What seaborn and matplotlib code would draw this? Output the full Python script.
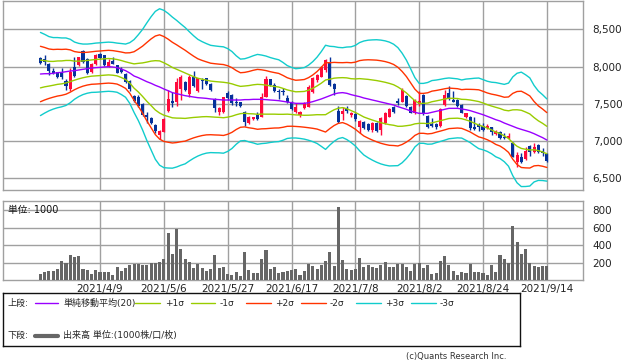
import numpy as np
import pandas as pd
import matplotlib
matplotlib.use("Agg")
import matplotlib.pyplot as plt
import seaborn as sns

sns.set_style("white")
plt.rcParams["font.family"] = ["DejaVu Sans", "Noto Sans CJK JP"]

# ------------------------------------------------------------------
# data (one entry per trading day)
# ------------------------------------------------------------------
opens = [8110, 8097, 8030, 7945, 7922, 7909, 7810, 7694, 7998, 8021,
         8209, 8097, 7931, 8034, 8168, 8155, 7998, 8079, 8021, 7963,
         7900, 7810, 7605, 7596, 7497, 7350, 7305, 7216, 7081, 7126,
         7403, 7542, 7529, 7694, 7797, 7627, 7864, 7676, 7819, 7842,
         7766, 7564, 7395, 7395, 7641, 7618, 7520, 7520, 7395, 7238,
         7292, 7350, 7327, 7596, 7828, 7752, 7663, 7676, 7573, 7529,
         7395, 7350, 7439, 7462, 7663, 7819, 7864, 7954, 8052, 7766,
         7404, 7363, 7435, 7345, 7359, 7193, 7260, 7229, 7149, 7247,
         7149, 7238, 7327, 7457, 7542, 7529, 7605, 7457, 7372, 7497,
         7618, 7336, 7229, 7229, 7202, 7484, 7650, 7551, 7551, 7484,
         7327, 7327, 7193, 7216, 7202, 7171, 7184, 7095, 7126, 7050,
         7037, 6979, 6724, 6791, 6755, 6934, 6858, 6947, 6871, 6827]
highs = [8133, 8155, 8043, 7976, 7931, 7976, 7833, 7976, 8133, 8133,
         8222, 8110, 8043, 8168, 8177, 8160, 8097, 8124, 8025, 7998,
         7918, 7819, 7618, 7618, 7506, 7395, 7327, 7229, 7149, 7305,
         7685, 7663, 7842, 7887, 7806, 7887, 7945, 7851, 7842, 7851,
         7775, 7573, 7462, 7596, 7676, 7632, 7573, 7529, 7403, 7336,
         7327, 7395, 7650, 7873, 7837, 7775, 7694, 7708, 7618, 7538,
         7506, 7403, 7529, 7752, 7864, 7900, 8007, 8097, 8124, 7775,
         7471, 7462, 7471, 7395, 7372, 7283, 7269, 7238, 7260, 7260,
         7318, 7395, 7440, 7471, 7578, 7710, 7618, 7466, 7560, 7676,
         7632, 7350, 7305, 7247, 7439, 7685, 7739, 7676, 7560, 7497,
         7381, 7336, 7318, 7247, 7238, 7229, 7193, 7149, 7135, 7104,
         7104, 6992, 6858, 6835, 6925, 6947, 6970, 6956, 6903, 6835]
lows = [8034, 8021, 7887, 7900, 7842, 7828, 7685, 7676, 7864, 8007,
        8043, 7900, 7918, 8021, 8097, 8007, 7989, 8030, 7909, 7909,
        7784, 7676, 7529, 7462, 7336, 7247, 7229, 7113, 7023, 7117,
        7386, 7462, 7471, 7551, 7676, 7596, 7730, 7663, 7694, 7757,
        7676, 7395, 7350, 7381, 7551, 7484, 7471, 7453, 7202, 7229,
        7283, 7283, 7318, 7587, 7739, 7663, 7560, 7618, 7515, 7417,
        7381, 7327, 7426, 7453, 7650, 7797, 7855, 7931, 7739, 7618,
        7247, 7283, 7372, 7327, 7274, 7104, 7157, 7135, 7126, 7126,
        7081, 7229, 7318, 7381, 7484, 7520, 7462, 7372, 7363, 7471,
        7350, 7180, 7193, 7157, 7193, 7471, 7551, 7529, 7462, 7372,
        7305, 7149, 7149, 7140, 7140, 7157, 7081, 7081, 7023, 7023,
        7023, 6782, 6656, 6710, 6746, 6800, 6845, 6845, 6800, 6724]
closes = [8043, 8066, 7945, 7918, 7855, 7855, 7739, 7931, 7873, 8124,
          8066, 7909, 8034, 8155, 8110, 8021, 8066, 8034, 7918, 7931,
          7797, 7694, 7538, 7471, 7350, 7327, 7238, 7140, 7135, 7296,
          7564, 7515, 7797, 7864, 7685, 7864, 7739, 7842, 7806, 7766,
          7685, 7439, 7439, 7587, 7573, 7515, 7506, 7471, 7260, 7327,
          7318, 7292, 7596, 7828, 7752, 7676, 7654, 7663, 7529, 7426,
          7453, 7390, 7515, 7721, 7842, 7887, 7998, 8088, 7752, 7694,
          7260, 7404, 7408, 7381, 7292, 7274, 7171, 7149, 7247, 7140,
          7305, 7381, 7430, 7395, 7506, 7685, 7471, 7381, 7551, 7542,
          7381, 7193, 7202, 7184, 7426, 7618, 7573, 7529, 7471, 7381,
          7372, 7171, 7157, 7193, 7149, 7202, 7126, 7140, 7037, 7037,
          7068, 6791, 6813, 6724, 6871, 6858, 6925, 6858, 6845, 6737]
volume = [69, 91, 103, 103, 126, 217, 190, 286, 263, 274,
          126, 114, 69, 114, 91, 91, 91, 57, 149, 103,
          137, 171, 183, 183, 171, 171, 190, 190, 206, 240,
          533, 297, 587, 354, 240, 206, 137, 183, 137, 103,
          126, 286, 137, 149, 69, 57, 91, 46, 320, 114,
          80, 80, 240, 343, 126, 149, 80, 91, 103, 114,
          126, 57, 103, 183, 160, 126, 171, 217, 320, 164,
          838, 229, 126, 114, 126, 251, 149, 171, 149, 137,
          171, 206, 149, 149, 187, 183, 149, 103, 183, 194,
          137, 171, 69, 80, 217, 274, 171, 103, 57, 88,
          80, 183, 91, 91, 80, 57, 171, 91, 286, 240,
          194, 617, 434, 297, 354, 194, 160, 149, 160, 160]
sma20 = [7900, 7904, 7904, 7909, 7918, 7922, 7931, 7940, 7945, 7954,
         7963, 7972, 7980, 7985, 7989, 7994, 7998, 7994, 7985, 7967,
         7945, 7913, 7873, 7851, 7824, 7797, 7775, 7748, 7726, 7699,
         7676, 7650, 7636, 7623, 7609, 7600, 7591, 7582, 7578, 7573,
         7565, 7560, 7556, 7551, 7551, 7551, 7551, 7551, 7556, 7556,
         7560, 7560, 7560, 7556, 7551, 7547, 7542, 7533, 7524, 7515,
         7506, 7506, 7506, 7515, 7529, 7547, 7565, 7587, 7609, 7632,
         7645, 7650, 7641, 7623, 7609, 7596, 7578, 7565, 7551, 7538,
         7524, 7511, 7497, 7484, 7462, 7444, 7426, 7403, 7386, 7372,
         7372, 7372, 7386, 7399, 7412, 7426, 7439, 7439, 7439, 7430,
         7421, 7408, 7390, 7372, 7354, 7332, 7310, 7287, 7269, 7242,
         7220, 7198, 7175, 7157, 7140, 7122, 7099, 7072, 7046, 7014]
sigma20 = [186, 176, 166, 160, 157, 154, 151, 142, 128, 119,
           113, 110, 109, 110, 110, 110, 110, 110, 110, 114,
           119, 136, 163, 192, 225, 263, 298, 331, 350, 352,
           346, 338, 328, 316, 305, 289, 274, 261, 252, 245,
           240, 239, 238, 238, 230, 217, 198, 183, 183, 189,
           195, 201, 198, 195, 190, 186, 183, 174, 163, 158,
           155, 157, 160, 168, 179, 193, 212, 233, 221, 212,
           204, 201, 207, 214, 225, 242, 255, 263, 269, 274,
           277, 278, 277, 272, 264, 245, 220, 189, 155, 134,
           134, 138, 142, 140, 139, 138, 136, 134, 132, 130,
           137, 143, 151, 158, 157, 157, 160, 166, 168, 173,
           186, 221, 245, 256, 250, 242, 216, 200, 192, 184]

date_labels = ["2021/4/9", "2021/5/6", "2021/5/27", "2021/6/17",
               "2021/7/8", "2021/8/2", "2021/8/24", "2021/9/14"]
date_pos = [14, 29, 44, 59, 74, 89, 104, 119]
price_ticks = [6500, 7000, 7500, 8000, 8500]
vol_ticks = [200, 400, 600, 800]

# ------------------------------------------------------------------
# style
# ------------------------------------------------------------------
GRID = "#a0a0a0"
UP = "#ff0a3c"
DOWN = "#06329a"
VOL = "#666666"
BANDS = [("SMA20", 0, "#9900ff"), ("+1σ", 1, "#99cc00"), ("-1σ", -1, "#99cc00"),
         ("+2σ", 2, "#ff3300"), ("-2σ", -2, "#ff3300"),
         ("+3σ", 3, "#11cccc"), ("-3σ", -3, "#11cccc")]

W, H = 638, 362
fig = plt.figure(figsize=(W / 100, H / 100), dpi=100)
fig.patch.set_facecolor("white")


def px_axes(x0, y0, x1, y1):
    return fig.add_axes([x0 / W, 1 - y1 / H, (x1 - x0) / W, (y1 - y0) / H])


ax = px_axes(3, 1, 583, 190)
axv = px_axes(3, 201, 583, 280)

n = len(closes)
idx = np.arange(n)
o, h, l, c = (np.array(a, dtype=float) for a in (opens, highs, lows, closes))
mid = np.array(sma20, dtype=float)
sd = np.array(sigma20, dtype=float)

# ---- bollinger bands ----
bands = pd.concat([pd.DataFrame({"i": idx, "price": mid + k * sd, "band": name})
                   for name, k, _ in BANDS])
sns.lineplot(data=bands, x="i", y="price", hue="band",
             hue_order=[b[0] for b in BANDS],
             palette={b[0]: b[2] for b in BANDS},
             estimator=None, sort=False, lw=1.0, legend=False, ax=ax, zorder=5)

# ---- candles ----
col = np.where(c >= o, UP, DOWN)
ax.vlines(idx, l, h, colors=col, lw=1.0, zorder=3)
body = np.maximum(np.abs(c - o), 12)
ax.bar(idx, body, bottom=np.minimum(o, c), width=0.72, color=col,
       linewidth=0, zorder=4)

# ---- volume ----
axv.bar(idx, volume, width=0.72, color=VOL, linewidth=0, zorder=3)

# ---- axes cosmetics ----
xlim = (-8.8, 127.5)
for a in (ax, axv):
    a.set_xlim(*xlim)
    a.set_xticks(date_pos)
    a.set_axisbelow(True)
    a.grid(True, color=GRID, lw=1.0)
    a.yaxis.tick_right()
    a.tick_params(axis="both", length=0, labelsize=7.5, colors="#222222")
    a.tick_params(axis="y", pad=7)
    for s in a.spines.values():
        s.set_color(GRID)
        s.set_linewidth(1.0)
    a.set_xlabel("")
    a.set_ylabel("")

ax.set_ylim(6343, 8880)
ax.set_yticks(price_ticks)
ax.set_yticklabels([f"{v:,}" for v in price_ticks])
ax.tick_params(axis="x", labelbottom=False)

axv.set_ylim(0, 903)
axv.set_yticks(vol_ticks)
axv.set_yticklabels([str(v) for v in vol_ticks])
axv.set_xticklabels(date_labels)
axv.tick_params(axis="x", pad=3)

fig.text(8 / W, 1 - 210 / H, "単位: 1000", fontsize=7, va="center", ha="left",
         color="#111111")

# ---- legend box ----
axl = px_axes(3, 293, 520, 346)
axl.set_xlim(0, 517)
axl.set_ylim(53, 0)
axl.set_xticks([])
axl.set_yticks([])
for s in axl.spines.values():
    s.set_color("#111111")
    s.set_linewidth(1.0)

r1, r2 = 10.3, 42.7
fs = 6.5
axl.text(5, r1, "上段:", fontsize=fs, va="center")
legend_items = [(32, 55, 60, "単純移動平均(20)", "#9900ff"),
                (132, 157, 162, "+1σ", "#99cc00"),
                (188, 212, 217, "-1σ", "#99cc00"),
                (243, 268, 272, "+2σ", "#ff3300"),
                (298, 323, 327, "-2σ", "#ff3300"),
                (353, 378, 382, "+3σ", "#11cccc"),
                (408, 433, 437, "-3σ", "#11cccc")]
for x0, x1, xt, label, color in legend_items:
    axl.plot([x0, x1], [r1, r1], color=color, lw=1.0)
    axl.text(xt, r1, label, fontsize=fs, va="center")

axl.text(5, r2, "下段:", fontsize=fs, va="center")
axl.plot([32, 55], [r2, r2], color=VOL, lw=3)
axl.text(60, r2, "出来高 単位:(1000株/口/枚)", fontsize=fs, va="center")

fig.text(506 / W, 1 - 356 / H, "(c)Quants Research Inc.", fontsize=6,
         ha="right", va="center", color="#333333")

fig.savefig("out.png", dpi=100, facecolor="white")
